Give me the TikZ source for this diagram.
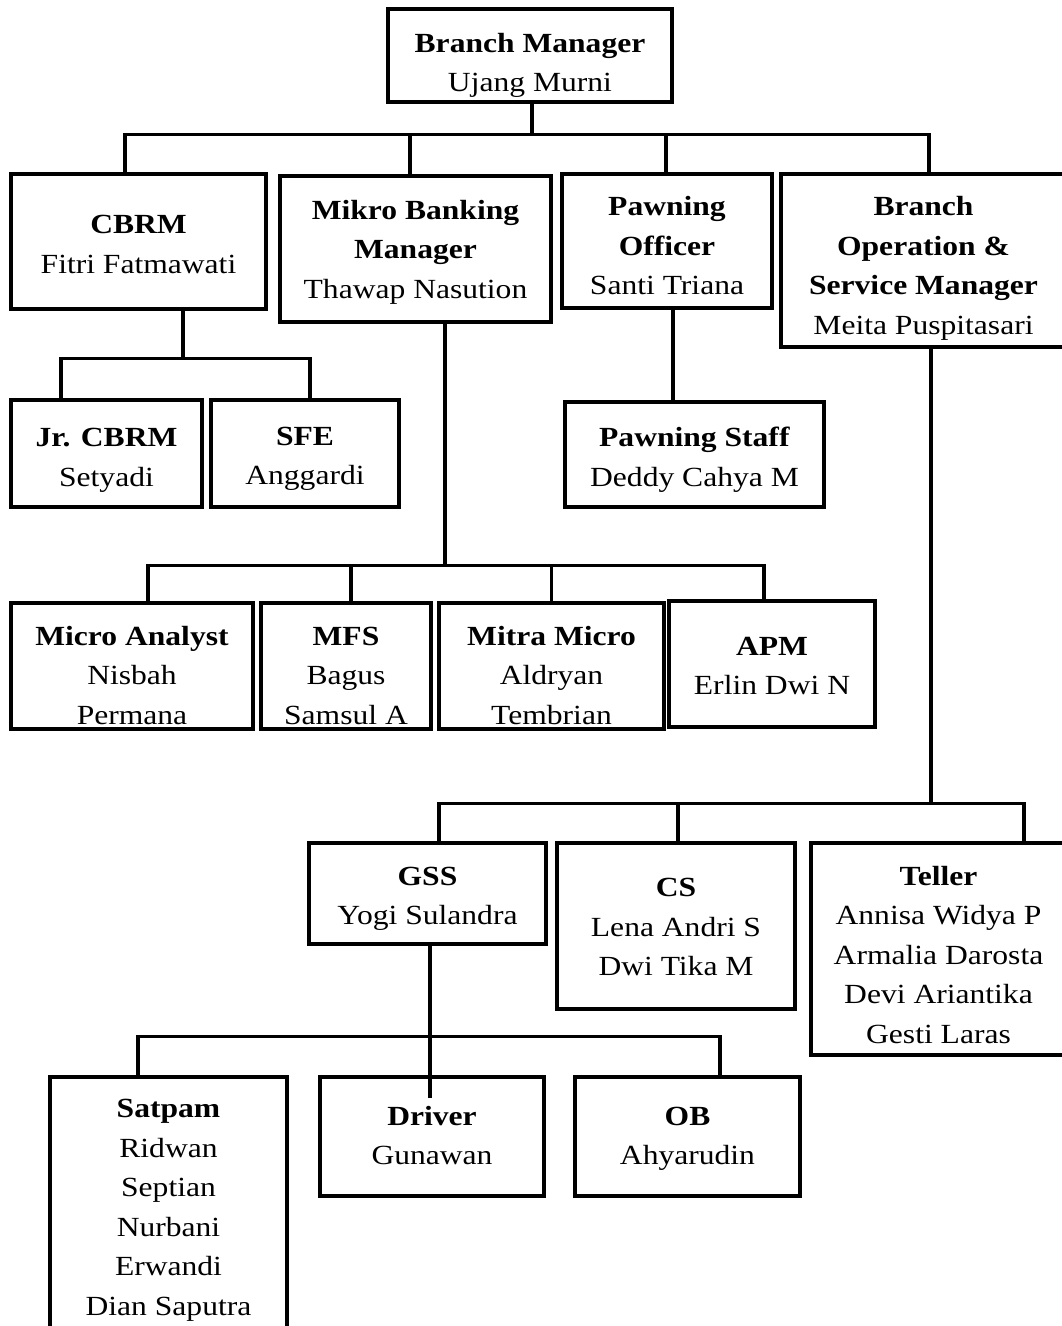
\documentclass[tikz,border=0pt]{standalone}
\usepackage{fontspec}
\setmainfont{Liberation Serif}[FakeStretch=1.14]
\usepackage{tikz}
\tikzstyle{post}=[draw,rectangle,line width=3.3pt,align=center,inner sep=0pt,text depth=0pt,font=\fontsize{27.7}{39.5}\selectfont]
\tikzstyle{link}=[draw,line width=3.3pt]

\begin{document}
\begin{tikzpicture}[x=1pt,y=1pt]
\useasboundingbox (0,0) rectangle (1062,-1326);
\clip (0,0) rectangle (1062,-1326);

	\node[post,minimum width=284pt,minimum height=93pt,text height=72pt] (bm) at (530,-55.5) {\textbf{Branch Manager}\\Ujang Murni};
	
	\node[post,minimum width=255pt,minimum height=135pt,text height=63pt] (cbrm) at (138.5,-241.5) {\textbf{CBRM}\\Fitri Fatmawati};
	\node[post,minimum width=271pt,minimum height=146pt,text height=98pt] (mbm) at (415.5,-249) {\textbf{Mikro Banking}\\\textbf{Manager}\\Thawap Nasution};
	\node[post,minimum width=210pt,minimum height=134pt,text height=107.4pt] (po) at (667,-241) {\textbf{Pawning}\\\textbf{Officer}\\Santi Triana};
	\node[post,minimum width=285pt,minimum height=173pt,text height=147.4pt] (bosm) at (923.5,-260.5) {\textbf{Branch}\\\textbf{Operation \&}\\\textbf{Service Manager}\\Meita Puspitasari};
	
	\node[post,minimum width=191pt,minimum height=107pt,text height=65.4pt] (jr) at (106.5,-453.5) {\textbf{Jr. CBRM}\\Setyadi};
	\node[post,minimum width=188pt,minimum height=107pt,text height=62pt] (sfe) at (305,-453.5) {\textbf{SFE}\\Anggardi};
	\node[post,minimum width=259pt,minimum height=105pt,text height=63.4pt] (ps) at (694.5,-454.5) {\textbf{Pawning Staff}\\Deddy Cahya M};
	
	\node[post,minimum width=242pt,minimum height=126pt,text height=116pt] (ma) at (132,-666) {\textbf{Micro Analyst}\\Nisbah\\Permana};
	\node[post,minimum width=170pt,minimum height=126pt,text height=116pt] (mfs) at (346,-666) {\textbf{MFS}\\Bagus\\Samsul A};
	\node[post,minimum width=225pt,minimum height=126pt,text height=116pt] (mm) at (551.5,-666) {\textbf{Mitra Micro}\\Aldryan\\Tembrian};
	\node[post,minimum width=206pt,minimum height=126pt,text height=61pt] (apm) at (772,-664) {\textbf{APM}\\Erlin Dwi N};
	
	\node[post,minimum width=237pt,minimum height=101pt,text height=62pt] (gss) at (427.5,-893.5) {\textbf{GSS}\\Yogi Sulandra};
	\node[post,minimum width=238pt,minimum height=166pt,text height=99.4pt] (cs) at (676,-926) {\textbf{CS}\\Lena Andri S\\Dwi Tika M};
	\node[post,minimum width=255pt,minimum height=212pt,text height=188pt] (tel) at (938.5,-949) {\textbf{Teller}\\Annisa Widya P\\Armalia Darosta\\Devi Ariantika\\Gesti Laras};
	
	\node[post,minimum width=237pt,minimum height=268pt,text height=208pt] (sat) at (168.5,-1211) {\textbf{Satpam}\\Ridwan\\Septian\\Nurbani\\Erwandi\\Dian Saputra};
	\node[post,minimum width=224pt,minimum height=119pt,text height=56pt] (drv) at (432,-1136.5) {\textbf{Driver}\\Gunawan};
	\node[post,minimum width=225pt,minimum height=119pt,text height=56pt] (ob) at (687.5,-1136.5) {\textbf{OB}\\Ahyarudin};


	\path[link] ([xshift=2]bm.south) -- ++(0,-31) coordinate (t1);
	\path[link] (t1) -| ([xshift=-13.5]cbrm.north);
	\path[link] (t1) -| ([xshift=-5.5]mbm.north);
	\path[link] (t1) -| ([xshift=-1]po.north);
	\path[link] (t1) -| ([xshift=5.5]bosm.north);

	\path[link] ([xshift=44.5]cbrm.south) -- ++(0,-48) coordinate (t2);
	\path[link] (t2) -| ([xshift=-45.5]jr.north);
	\path[link] (t2) -| ([xshift=5]sfe.north);

	\path[link] ([xshift=6]po.south) -- ([xshift=-21.5]ps.north);

	\path[link] ([xshift=29.5]mbm.south) -- ++(0,-242) coordinate (t3);
	\path[link] (t3) -| ([xshift=16]ma.north);
	\path[link] (t3) -| ([xshift=5]mfs.north);
	\path[link] (t3) -| (mm.north);
	\path[link] (t3) -| ([xshift=-8]apm.north);

	\path[link] ([xshift=7.5]bosm.south) -- ++(0,-455) coordinate (t4);
	\path[link] (t4) -| ([xshift=11.5]gss.north);
	\path[link] (t4) -| ([xshift=2]cs.north);
	\path[link] (t4) -| ([xshift=85.5]tel.north);

	\path[link] ([xshift=2.5]gss.south) -- ++(0,-91) coordinate (t5);
	\path[link] (t5) -| ([xshift=-30.5]sat.north);
	\path[link] (t5) -- ([xshift=-2,yshift=-23]drv.north);
	\path[link] (t5) -| ([xshift=32.5]ob.north);
\end{tikzpicture}
\end{document}
